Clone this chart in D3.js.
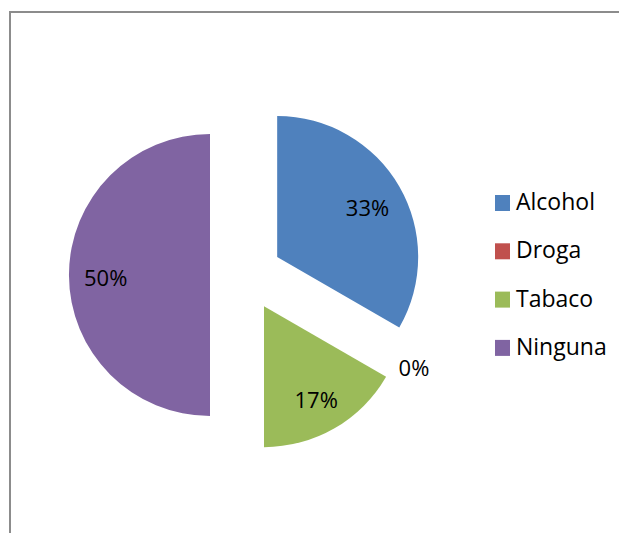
<!DOCTYPE html>
<html>
<head>
<meta charset="utf-8">
<title>Consumo</title>
<style>
  body { margin: 0; background: #fff; }
  svg text { font-family: "Open Sans", "Noto Sans", sans-serif; fill: #000; }
</style>
</head>
<body>
<div id="chart"></div>
<script src="https://cdn.jsdelivr.net/npm/d3@7/dist/d3.min.js"></script>
<script>

// categories and counts (2 of 6, 0, 1 of 6, 3 of 6)
var categories = ["Alcohol", "Droga", "Tabaco", "Ninguna"];
var counts = [2, 0, 1, 3];
var colors = ["#4F81BD", "#C0504D", "#9BBB59", "#8064A2"];

var w = 619, h = 533;
var cx = 246, cy = 275, r = 141, explode = 36;

var svg = d3.select("#chart").append("svg")
    .attr("width", w).attr("height", h);

// frame (only top and left edges fall inside the picture)
svg.append("rect")
    .attr("x", 10).attr("y", 12)
    .attr("width", w + 20).attr("height", h + 20)
    .attr("fill", "none").attr("stroke", "#8c8c8c").attr("stroke-width", 2);

var total = d3.sum(counts);
var slices = d3.pie().sort(null).value(function(d) { return d; })(counts);
var arc = d3.arc().innerRadius(0).outerRadius(r);
var fmt = function(v) { return Math.round(v / total * 100) + "%"; };

function dir(d) {
  var a = (d.startAngle + d.endAngle) / 2;
  return [Math.sin(a), -Math.cos(a)];
}
// label distance from the exploded slice centre; empty slices get it outside
function labelR(d) { return d.value > 0 ? 0.74 * r : 1.12 * r; }

var g = svg.append("g").attr("transform", "translate(" + cx + "," + cy + ")");

g.selectAll("path")
  .data(slices)
  .enter()
  .append("path")
  .attr("d", arc)
  .attr("fill", function(d, i) { return colors[i]; })
  .attr("transform", function(d) {
     var v = dir(d);
     return "translate(" + v[0] * explode + "," + v[1] * explode + ")";
  });

g.selectAll("text.lbl")
  .data(slices)
  .enter()
  .append("text")
  .attr("class", "lbl")
  .attr("text-anchor", "middle")
  .attr("dy", function(d) { return d.value > 0 ? "0.5em" : "0.2em"; })
  .style("font-size", "22px")
  .attr("x", function(d) { return dir(d)[0] * (explode + labelR(d)); })
  .attr("y", function(d) { return dir(d)[1] * (explode + labelR(d)); })
  .text(function(d) { return fmt(d.value); });

// legend
var legend = svg.append("g").attr("transform", "translate(495,195)");
var item = legend.selectAll("g")
  .data(categories)
  .enter()
  .append("g")
  .attr("transform", function(d, i) { return "translate(0," + i * 48.3 + ")"; });

item.append("rect")
  .attr("width", 15).attr("height", 16)
  .attr("fill", function(d, i) { return colors[i]; });

item.append("text")
  .attr("x", 21).attr("y", 15)
  .style("font-size", "23px")
  .text(function(d) { return d; });

</script>
</body>
</html>
